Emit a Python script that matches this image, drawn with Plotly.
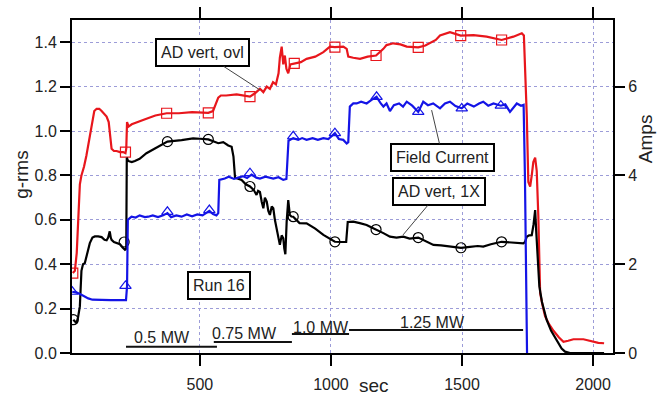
import plotly.graph_objects as go

# ---------------- data ----------------
# AD vert, ovl  (g-rms)
red_t = [15, 23, 30, 36, 42, 48, 58, 67, 77, 87, 97, 106, 116, 125, 135, 144, 152, 158, 163, 172,
         182, 195, 207, 216, 219, 222, 228, 240, 260, 296, 330, 373, 420, 470, 532, 550, 560, 570,
         580, 600, 640, 691, 710, 729, 742, 755, 767, 779, 790, 800, 805, 812, 818, 824, 830, 837,
         845, 860, 885, 907, 940, 971, 996, 1015, 1047, 1060, 1066, 1085, 1111, 1140, 1172, 1200,
         1212, 1238, 1265, 1289, 1333, 1360, 1378, 1400, 1416, 1454, 1495, 1544, 1594, 1651, 1696,
         1728, 1736, 1747, 1753, 1760, 1766, 1772, 1779, 1785, 1791, 1798, 1808, 1817, 1832, 1849,
         1870, 1887, 1905, 1925, 1963, 2001, 2020, 2042]
red_g = [0.36, 0.37, 0.45, 0.62, 0.76, 0.80, 0.84, 0.89, 0.96, 1.04, 1.09, 1.10, 1.10, 1.09, 1.075,
         1.065, 1.04, 0.98, 0.92, 0.91, 0.91, 0.905, 0.905, 0.90, 0.92, 1.04, 1.02, 1.03, 1.04,
         1.055, 1.07, 1.08, 1.08, 1.085, 1.082, 1.09, 1.12, 1.15, 1.16, 1.16, 1.165, 1.155, 1.17,
         1.19, 1.175, 1.20, 1.19, 1.22, 1.21, 1.26, 1.33, 1.38, 1.30, 1.34, 1.28, 1.26, 1.30, 1.305,
         1.31, 1.325, 1.335, 1.355, 1.38, 1.378, 1.38, 1.37, 1.335, 1.33, 1.325, 1.335, 1.34, 1.37,
         1.387, 1.395, 1.39, 1.38, 1.377, 1.385, 1.395, 1.41, 1.43, 1.445, 1.43, 1.432, 1.425, 1.41,
         1.425, 1.44, 1.43, 1.07, 0.77, 0.75, 0.80, 0.86, 0.88, 0.82, 0.62, 0.27, 0.21, 0.165, 0.13,
         0.10, 0.07, 0.05, 0.055, 0.062, 0.062, 0.052, 0.046, 0.044]
red_mk_t = [15, 216, 373, 532, 691, 860, 1015, 1172, 1333, 1495, 1651]
red_mk_g = [0.36, 0.905, 1.08, 1.082, 1.155, 1.305, 1.378, 1.34, 1.377, 1.43, 1.41]

# Field Current (Amps)
blue_t = [13, 30, 48, 60, 74, 90, 120, 160, 207, 218, 222, 225, 239, 255, 270, 290, 303, 320, 340,
          360, 376, 390, 410, 430, 450, 470, 490, 510, 536, 550, 563, 570, 574, 595, 610, 630, 646,
          665, 680, 697, 715, 729, 750, 780, 800, 818, 830, 838, 856, 875, 890, 907, 930, 950, 971,
          990, 1015, 1030, 1047, 1060, 1066, 1072, 1085, 1098, 1115, 1136, 1155, 1174, 1190, 1200,
          1212, 1225, 1240, 1260, 1275, 1289, 1310, 1333, 1352, 1370, 1390, 1416, 1435, 1454, 1475,
          1499, 1520, 1545, 1565, 1581, 1600, 1620, 1648, 1665, 1683, 1700, 1709, 1725, 1735, 1740,
          1745, 1748]
blue_a = [1.38, 1.36, 1.31, 1.27, 1.23, 1.20, 1.19, 1.19, 1.19, 1.19, 1.5, 3.0, 3.07, 3.05, 3.1,
          3.06, 3.07, 3.1, 3.06, 3.1, 3.15, 3.06, 3.1, 3.07, 3.12, 3.08, 3.12, 3.1, 3.2, 3.13, 3.1,
          3.15, 3.9, 3.93, 3.97, 3.92, 3.95, 3.98, 3.94, 4.02, 3.95, 3.93, 3.97, 3.93, 3.96, 3.9,
          3.92, 4.78, 4.84, 4.80, 4.84, 4.80, 4.84, 4.80, 4.84, 4.82, 4.95, 4.82, 4.80, 4.72, 4.75,
          5.55, 5.62, 5.62, 5.66, 5.62, 5.70, 5.77, 5.62, 5.55, 5.62, 5.45, 5.58, 5.62, 5.55, 5.66,
          5.57, 5.43, 5.66, 5.58, 5.62, 5.51, 5.62, 5.66, 5.56, 5.51, 5.62, 5.55, 5.62, 5.66, 5.57,
          5.62, 5.57, 5.60, 5.43, 5.55, 5.62, 5.57, 5.59, 4.0, 1.5, 0.0]
blue_mk_t = [13, 216, 376, 536, 691, 856, 1015, 1174, 1333, 1499, 1648]
blue_mk_a = [1.38, 1.51, 3.18, 3.22, 4.05, 4.88, 4.95, 5.77, 5.43, 5.51, 5.57]

# AD vert, 1X  (g-rms)
black_t = [17, 24, 29, 35, 42, 48, 54, 61, 70, 80, 90, 99, 112, 125, 136, 144, 150, 156, 160, 163,
           172, 182, 195, 205, 214, 219, 221, 226, 240, 252, 270, 296, 328, 347, 376, 430, 474, 500,
           532, 570, 589, 608, 621, 628, 634, 646, 659, 675, 691, 705, 716, 722, 729, 736, 742, 748,
           755, 761, 767, 774, 780, 786, 793, 799, 805, 812, 818, 822, 826, 831, 837, 843, 849, 856,
           880, 907, 940, 971, 995, 1015, 1040, 1058, 1064, 1073, 1085, 1110, 1136, 1155, 1172, 1200,
           1225, 1250, 1276, 1300, 1333, 1360, 1391, 1420, 1454, 1496, 1530, 1560, 1581, 1610, 1651,
           1690, 1734, 1740, 1747, 1756, 1766, 1773, 1779, 1783, 1788, 1795, 1805, 1813, 1823, 1840,
           1861, 1880, 1893, 1912, 2042]
black_g = [0.15, 0.14, 0.135, 0.16, 0.21, 0.37, 0.40, 0.405, 0.45, 0.495, 0.52, 0.525, 0.525, 0.522,
           0.51, 0.508, 0.52, 0.548, 0.52, 0.51, 0.50, 0.495, 0.49, 0.475, 0.465, 0.47, 0.88, 0.865,
           0.86, 0.865, 0.875, 0.90, 0.922, 0.935, 0.952, 0.959, 0.967, 0.965, 0.962, 0.945, 0.95,
           0.935, 0.929, 0.885, 0.79, 0.785, 0.779, 0.76, 0.75, 0.735, 0.712, 0.73, 0.725, 0.68,
           0.652, 0.70, 0.682, 0.64, 0.622, 0.66, 0.652, 0.60, 0.562, 0.52, 0.487, 0.53, 0.517, 0.47,
           0.445, 0.592, 0.689, 0.622, 0.615, 0.614, 0.585, 0.584, 0.56, 0.532, 0.515, 0.501, 0.50,
           0.50, 0.59, 0.592, 0.592, 0.585, 0.577, 0.565, 0.556, 0.54, 0.524, 0.52, 0.524, 0.515,
           0.52, 0.505, 0.487, 0.485, 0.479, 0.474, 0.478, 0.482, 0.479, 0.49, 0.501, 0.497, 0.494,
           0.50, 0.524, 0.53, 0.531, 0.58, 0.644, 0.55, 0.42, 0.30, 0.23, 0.19, 0.149, 0.10, 0.059,
           0.02, 0.006, 0.0, 0.0]
black_mk_t = [17, 211, 376, 532, 691, 856, 1015, 1172, 1333, 1496, 1651]
black_mk_g = [0.15, 0.50, 0.952, 0.962, 0.75, 0.614, 0.501, 0.556, 0.52, 0.474, 0.501]

# power-level bars
mw_labels = ["0.5 MW", "0.75 MW", "1.0 MW", "1.25 MW"]
mw_start = [218, 553, 851, 1069]
mw_end = [565, 851, 1069, 1733]
mw_level = [0.028, 0.050, 0.086, 0.104]
mw_label_t = [355, 670, 962, 1389]
mw_label_g = [0.070, 0.090, 0.117, 0.138]

x_ticks = [500, 1000, 1500, 2000]
y_ticks = [0.0, 0.2, 0.4, 0.6, 0.8, 1.0, 1.2, 1.4]
y_ticktext = ["0.0", "0.2", "0.4", "0.6", "0.8", "1.0", "1.2", "1.4"]
amps_ticks = [0, 2, 4, 6]

RED = "#e8161c"
BLUE = "#1414e6"
BLACK = "#000000"
FONT = "Liberation Sans, Arial, sans-serif"
GRID = "#9c9cd8"
LW = 2.2

fig = go.Figure()

fig.add_trace(go.Scatter(x=red_t, y=red_g, mode="lines", line=dict(color=RED, width=LW),
                         showlegend=False, hoverinfo="skip"))
fig.add_trace(go.Scatter(x=red_mk_t, y=red_mk_g, mode="markers",
                         marker=dict(symbol="square-open", size=10, color=RED, line=dict(width=1.2)),
                         showlegend=False, hoverinfo="skip"))
fig.add_trace(go.Scatter(x=black_t, y=black_g, mode="lines", line=dict(color=BLACK, width=LW),
                         showlegend=False, hoverinfo="skip"))
fig.add_trace(go.Scatter(x=black_mk_t, y=black_mk_g, mode="markers",
                         marker=dict(symbol="circle-open", size=10, color=BLACK, line=dict(width=1.2)),
                         showlegend=False, hoverinfo="skip"))
fig.add_trace(go.Scatter(x=blue_t, y=blue_a, yaxis="y2", mode="lines", line=dict(color=BLUE, width=LW),
                         showlegend=False, hoverinfo="skip"))
fig.add_trace(go.Scatter(x=blue_mk_t, y=blue_mk_a, yaxis="y2", mode="markers",
                         marker=dict(symbol="triangle-up-open", size=10, color=BLUE, line=dict(width=1.2)),
                         showlegend=False, hoverinfo="skip"))

for s, e, lv in zip(mw_start, mw_end, mw_level):
    fig.add_trace(go.Scatter(x=[s, e], y=[lv, lv], mode="lines", line=dict(color="#111", width=2),
                             showlegend=False, hoverinfo="skip"))

annotations = []
for lab, tx, ty in zip(mw_labels, mw_label_t, mw_label_g):
    annotations.append(dict(x=tx, y=ty, xref="x", yref="y", text=lab, showarrow=False,
                            xanchor="center", yanchor="middle",
                            font=dict(family=FONT, size=16, color="#222")))

box = dict(bordercolor="black", borderwidth=2, borderpad=4, bgcolor="white",
           font=dict(family=FONT, size=16, color="#222"))
annotations.append(dict(x=729, y=1.185, xref="x", yref="y", text="AD vert, ovl",
                        showarrow=True, arrowhead=0, arrowwidth=1, arrowcolor="#444",
                        ax=-57, ay=-37, **box))
annotations.append(dict(x=1384, y=5.47, xref="x", yref="y2", text="Field Current",
                        showarrow=True, arrowhead=0, arrowwidth=1, arrowcolor="#444",
                        ax=11, ay=47, **box))
annotations.append(dict(x=1275, y=0.532, xref="x", yref="y", text="AD vert, 1X",
                        showarrow=True, arrowhead=0, arrowwidth=1, arrowcolor="#444",
                        ax=36, ay=-43, **box))
annotations.append(dict(x=573, y=0.306, xref="x", yref="y", text="Run 16", showarrow=False,
                        xanchor="center", yanchor="middle", **box))

# axis titles
title_font = dict(family=FONT, size=19, color="#222")
annotations.append(dict(x=-0.0924, y=0.535, xref="paper", yref="paper", text="g-rms", textangle=-90,
                        showarrow=False, xanchor="center", yanchor="middle", font=title_font))
annotations.append(dict(x=1.059, y=0.645, xref="paper", yref="paper", text="Amps", textangle=-90,
                        showarrow=False, xanchor="center", yanchor="middle", font=title_font))
annotations.append(dict(x=0.558, y=-0.099, xref="paper", yref="paper", text="sec",
                        showarrow=False, xanchor="center", yanchor="middle", font=title_font))

fig.update_layout(
    width=665, height=396,
    margin=dict(l=72, r=52, t=20, b=43, autoexpand=False),
    paper_bgcolor="white", plot_bgcolor="white",
    font=dict(family=FONT, size=16, color="#222"),
    annotations=annotations,
    xaxis=dict(range=[12, 2076], tickvals=x_ticks, ticks="outside", ticklen=11, tickwidth=2,
               tickcolor="black", showline=True, linewidth=2, linecolor="black", mirror="allticks",
               showgrid=True, gridcolor=GRID, griddash="dot", gridwidth=1, zeroline=False,
               ticklabelstandoff=5, tickfont=dict(size=16), automargin=False),
    yaxis=dict(range=[0, 1.5], tickvals=y_ticks, ticktext=y_ticktext, ticks="outside", ticklen=10,
               tickwidth=2, tickcolor="black", showline=True, linewidth=2, linecolor="black",
               showgrid=True, gridcolor=GRID, griddash="dot", gridwidth=1, zeroline=False,
               tickfont=dict(size=16), automargin=False),
    yaxis2=dict(range=[0, 7.5], tickvals=amps_ticks, overlaying="y", side="right", ticks="outside",
                ticklen=10, tickwidth=2, tickcolor="black", showline=True, linewidth=2,
                linecolor="black", showgrid=False, zeroline=False, tickfont=dict(size=16),
                automargin=False),
)

fig.write_html("out.html")
